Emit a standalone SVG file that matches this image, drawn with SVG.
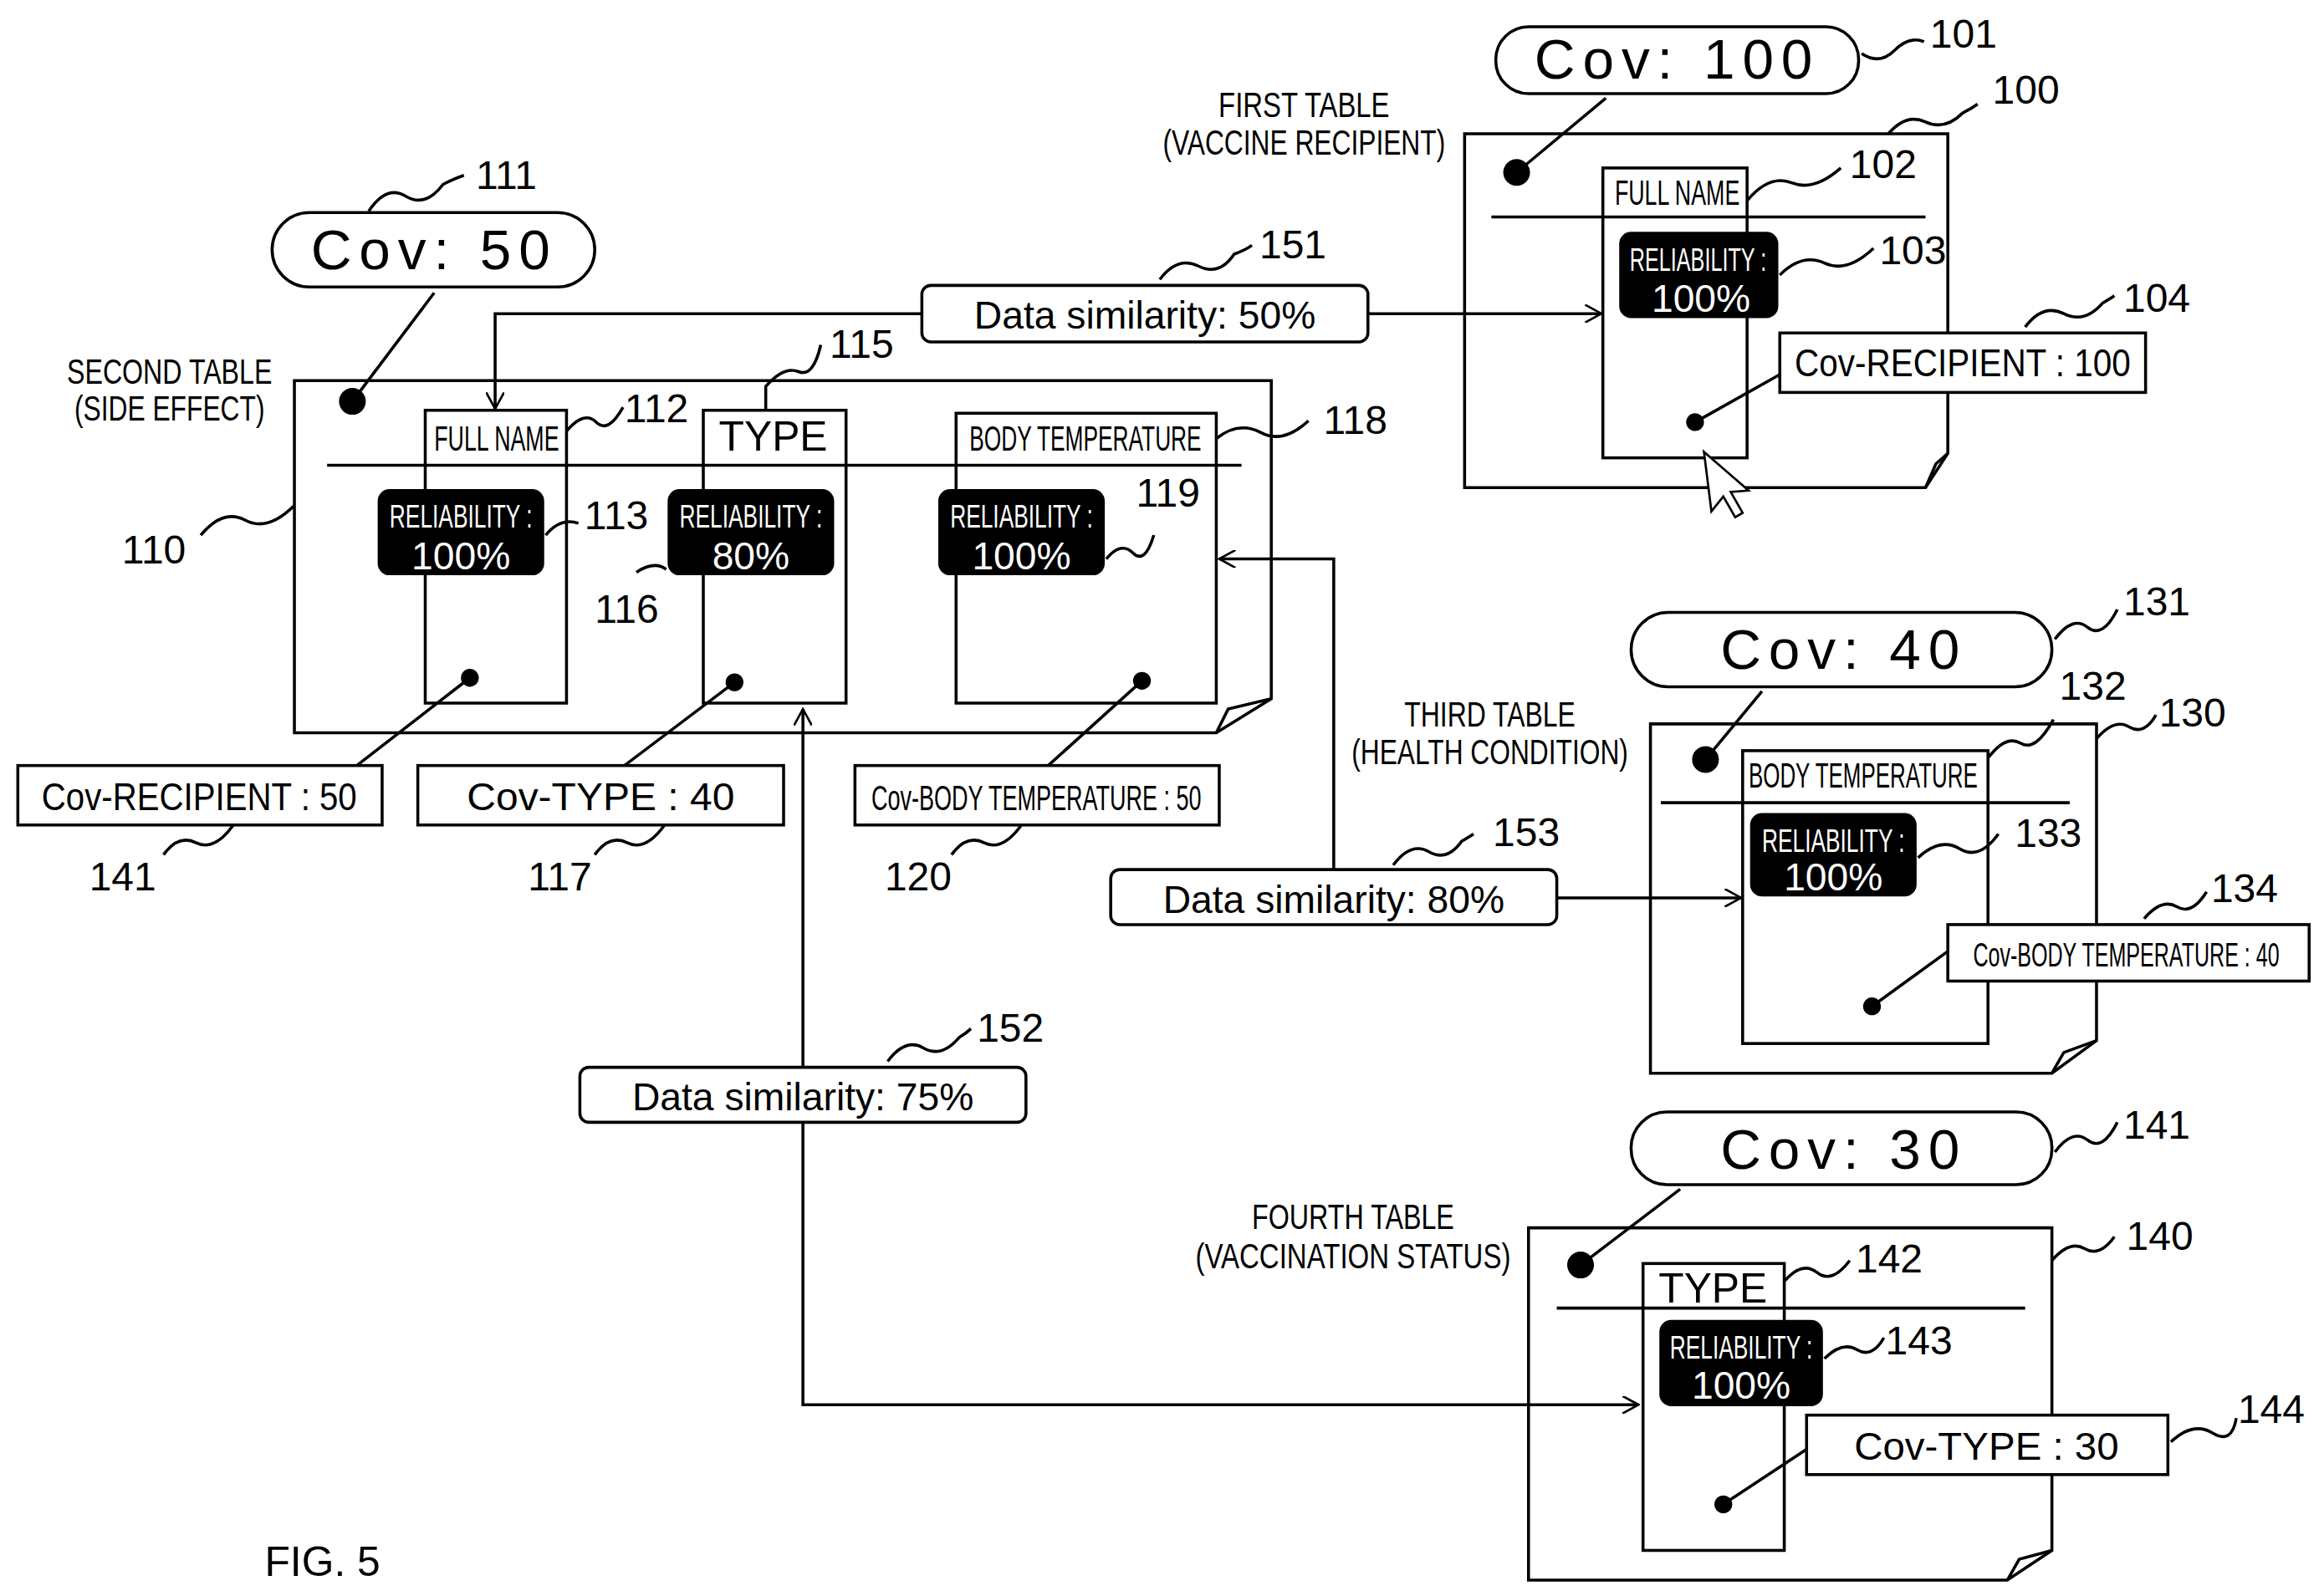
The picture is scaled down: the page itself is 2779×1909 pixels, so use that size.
<svg xmlns="http://www.w3.org/2000/svg" width="2779" height="1909" viewBox="0 0 2779 1909">
<defs>
<style>
.s{fill:none;stroke:#000;stroke-width:2}
.t{font-family:"Liberation Sans",Arial,sans-serif;fill:#000}
.n{font-family:"Liberation Sans",Arial,sans-serif;font-size:27px;fill:#000}
.c{font-family:"Liberation Sans",Arial,sans-serif;font-size:38px;letter-spacing:5px;fill:#000;text-anchor:middle}
.w{font-family:"Liberation Sans",Arial,sans-serif;fill:#fff;text-anchor:middle}
.b{fill:#fff;stroke:#000;stroke-width:2}
.k{fill:#000;stroke:#000;stroke-width:2}
</style>
<marker id="a" viewBox="0 0 12 12" refX="11" refY="6" markerWidth="12" markerHeight="12" markerUnits="userSpaceOnUse" orient="auto"><path d="M0 0 L11 6 L0 12" fill="none" stroke="#000" stroke-width="1.5"/></marker>
</defs>
<rect width="2779" height="1909" fill="#fff"/>
<g transform="scale(1.778)">
<g id="connectors">
<path class="s" d="M620 211 H333 V275" marker-end="url(#a)"/>
<path class="s" d="M920 211 H1077" marker-end="url(#a)"/>
<path class="s" d="M540 718 V477" marker-end="url(#a)"/>
<path class="s" d="M540 755 V945 H1102" marker-end="url(#a)"/>
<path class="s" d="M897 585 V376 H820" marker-end="url(#a)"/>
<path class="s" d="M1047 604 H1171" marker-end="url(#a)"/>
<g id="sim151"><rect class="b" x="620" y="192" width="300" height="38" rx="6"/><text class="t" x="770" y="221" font-size="26" text-anchor="middle">Data similarity: 50%</text><path class="s" d="M780 188 q12 -16 26 -9 t24 -8 q8 -3 12 -6"/><text class="n" x="847" y="174">151</text></g>
<g id="sim152"><rect class="b" x="390" y="718" width="300" height="37" rx="6"/><text class="t" x="540" y="747" font-size="26" text-anchor="middle">Data similarity: 75%</text><path class="s" d="M597 714 q12 -16 24 -9 t24 -7 q5 -3 8 -6"/><text class="n" x="657" y="701">152</text></g>
<g id="sim153"><rect class="b" x="747" y="585" width="300" height="37" rx="6"/><text class="t" x="897" y="614" font-size="26" text-anchor="middle">Data similarity: 80%</text><path class="s" d="M937 582 q12 -16 24 -9 t22 -7 q5 -3 8 -5"/><text class="n" x="1004" y="569">153</text></g>
</g>

<g id="table1">
<path class="s" d="M985 90 H1310 V305 L1295 328 H985 Z"/>
<path class="s" d="M1295 328 L1302 312 L1310 305"/>
<text class="t" x="877" y="79" font-size="24" text-anchor="middle" textLength="115" lengthAdjust="spacingAndGlyphs">FIRST TABLE</text>
<text class="t" x="877" y="104" font-size="24" text-anchor="middle" textLength="190" lengthAdjust="spacingAndGlyphs">(VACCINE RECIPIENT)</text>
<rect class="b" x="1006" y="18" width="244" height="45" rx="22"/>
<text class="c" x="1128" y="53">Cov: 100</text>
<line class="s" x1="1020" y1="116" x2="1080" y2="66" stroke-width="4"/>
<circle cx="1020" cy="116" r="9"/>
<path class="s" d="M1252 36 q12 8 22 -2 t20 -6"/><text class="n" x="1298" y="32">101</text>
<path class="s" d="M1270 90 q12 -14 25 -8 t25 -6 q6 -3 10 -6"/><text class="n" x="1340" y="70">100</text>
<rect class="s" x="1078" y="113" width="97" height="195"/>
<text class="t" x="1128" y="138" font-size="24" text-anchor="middle" textLength="84" lengthAdjust="spacingAndGlyphs">FULL NAME</text>
<line class="s" x1="1003" y1="146" x2="1295" y2="146"/>
<path class="s" d="M1175 135 q15 -18 30 -12 t33 -10"/><text class="n" x="1244" y="120">102</text>
<rect class="k" x="1090" y="157" width="105" height="56" rx="7"/>
<text class="w" x="1142" y="182" font-size="22" textLength="92" lengthAdjust="spacingAndGlyphs">RELIABILITY :</text>
<text class="w" x="1144" y="210" font-size="26">100%</text>
<path class="s" d="M1197 185 q15 -15 30 -8 t33 -10"/><text class="n" x="1264" y="178">103</text>
<rect class="b" x="1197" y="224" width="246" height="40"/>
<text class="t" x="1320" y="253" font-size="26" text-anchor="middle" textLength="226" lengthAdjust="spacingAndGlyphs">Cov-RECIPIENT : 100</text>
<path class="s" d="M1362 220 q12 -16 26 -9 t26 -7 q5 -3 8 -5"/><text class="n" x="1428" y="210">104</text>
<line class="s" x1="1140" y1="284" x2="1197" y2="252"/><circle cx="1140" cy="284" r="6"/>
<path d="M1146 304 L1151 344 L1159 334 L1167 348 L1172 345 L1164 331 L1176 330 Z" fill="#fff" stroke="#000" stroke-width="1.5"/>
</g>

<g id="table2">
<path class="s" d="M198 256 H855 V470 L818 493 H198 Z"/>
<path class="s" d="M818 493 L826 477 L855 470"/>
<text class="t" x="114" y="258" font-size="24" text-anchor="middle" textLength="138" lengthAdjust="spacingAndGlyphs">SECOND TABLE</text>
<text class="t" x="114" y="283" font-size="24" text-anchor="middle" textLength="128" lengthAdjust="spacingAndGlyphs">(SIDE EFFECT)</text>
<rect class="b" x="183" y="143" width="217" height="50" rx="25"/>
<text class="c" x="292" y="181">Cov: 50</text>
<line class="s" x1="237" y1="270" x2="292" y2="197" stroke-width="4"/>
<circle cx="237" cy="270" r="9"/>
<path class="s" d="M248 142 q12 -18 25 -10 t25 -8 q8 -4 14 -6"/><text class="n" x="320" y="127">111</text>
<path class="s" d="M135 360 q15 -18 30 -10 t33 -10"/><text class="n" x="82" y="379">110</text>
<line class="s" x1="220" y1="313" x2="835" y2="313"/>
<rect class="s" x="286" y="276" width="95" height="197"/>
<text class="t" x="334" y="303" font-size="24" text-anchor="middle" textLength="84" lengthAdjust="spacingAndGlyphs">FULL NAME</text>
<path class="s" d="M381 290 q12 -14 20 -6 t18 -10"/><text class="n" x="420" y="284">112</text>
<rect class="k" x="255" y="330" width="110" height="56" rx="7"/>
<text class="w" x="310" y="355" font-size="22" textLength="96" lengthAdjust="spacingAndGlyphs">RELIABILITY :</text>
<text class="w" x="310" y="383" font-size="26">100%</text>
<path class="s" d="M367 360 q10 -12 22 -8"/><text class="n" x="393" y="356">113</text>
<rect class="s" x="473" y="276" width="96" height="197"/>
<text class="t" x="520" y="303" font-size="28" text-anchor="middle">TYPE</text>
<path class="s" d="M515 276 V260 q12 -14 22 -10 t15 -18"/><text class="n" x="558" y="241">115</text>
<rect class="k" x="450" y="330" width="110" height="56" rx="7"/>
<text class="w" x="505" y="355" font-size="22" textLength="96" lengthAdjust="spacingAndGlyphs">RELIABILITY :</text>
<text class="w" x="505" y="383" font-size="26">80%</text>
<path class="s" d="M428 385 q12 -8 20 -2"/><text class="n" x="400" y="419">116</text>
<rect class="s" x="643" y="278" width="175" height="195"/>
<text class="t" x="730" y="303" font-size="24" text-anchor="middle" textLength="156" lengthAdjust="spacingAndGlyphs">BODY TEMPERATURE</text>
<path class="s" d="M818 295 q15 -12 30 -4 t32 -8"/><text class="n" x="890" y="292">118</text>
<rect class="k" x="632" y="330" width="110" height="56" rx="7"/>
<text class="w" x="687" y="355" font-size="22" textLength="96" lengthAdjust="spacingAndGlyphs">RELIABILITY :</text>
<text class="w" x="687" y="383" font-size="26">100%</text>
<path class="s" d="M744 376 q10 -12 18 -4 t14 -12"/><text class="n" x="764" y="341">119</text>
<line class="s" x1="316" y1="456" x2="240" y2="515"/><circle cx="316" cy="456" r="6"/>
<line class="s" x1="494" y1="459" x2="420" y2="515"/><circle cx="494" cy="459" r="6"/>
<line class="s" x1="768" y1="458" x2="705" y2="515"/><circle cx="768" cy="458" r="6"/>
<rect class="b" x="12" y="515" width="245" height="40"/>
<text class="t" x="134" y="545" font-size="26" text-anchor="middle" textLength="212" lengthAdjust="spacingAndGlyphs">Cov-RECIPIENT : 50</text>
<path class="s" d="M110 575 q10 -14 22 -8 t25 -12"/><text class="n" x="60" y="599">141</text>
<rect class="b" x="281" y="515" width="246" height="40"/>
<text class="t" x="404" y="545" font-size="26" text-anchor="middle" textLength="180" lengthAdjust="spacingAndGlyphs">Cov-TYPE : 40</text>
<path class="s" d="M400 575 q10 -14 22 -8 t25 -12"/><text class="n" x="355" y="599">117</text>
<rect class="b" x="575" y="515" width="245" height="40"/>
<text class="t" x="697" y="545" font-size="24" text-anchor="middle" textLength="222" lengthAdjust="spacingAndGlyphs">Cov-BODY TEMPERATURE : 50</text>
<path class="s" d="M640 575 q10 -14 22 -8 t25 -12"/><text class="n" x="595" y="599">120</text>
</g>

<g id="table3">
<path class="s" d="M1110 487 H1410 V700 L1380 722 H1110 Z"/>
<path class="s" d="M1380 722 L1388 708 L1410 700"/>
<text class="t" x="1002" y="489" font-size="24" text-anchor="middle" textLength="115" lengthAdjust="spacingAndGlyphs">THIRD TABLE</text>
<text class="t" x="1002" y="514" font-size="24" text-anchor="middle" textLength="186" lengthAdjust="spacingAndGlyphs">(HEALTH CONDITION)</text>
<rect class="b" x="1097" y="412" width="283" height="50" rx="25"/>
<text class="c" x="1240" y="450">Cov: 40</text>
<line class="s" x1="1147" y1="511" x2="1185" y2="465" stroke-width="4"/>
<circle cx="1147" cy="511" r="9"/>
<path class="s" d="M1382 430 q12 -16 22 -8 t20 -12"/><text class="n" x="1428" y="414">131</text>
<rect class="s" x="1172" y="505" width="165" height="197"/>
<text class="t" x="1253" y="530" font-size="24" text-anchor="middle" textLength="154" lengthAdjust="spacingAndGlyphs">BODY TEMPERATURE</text>
<line class="s" x1="1117" y1="540" x2="1392" y2="540"/>
<path class="s" d="M1337 510 q12 -16 22 -10 t22 -16"/><text class="n" x="1385" y="471">132</text>
<path class="s" d="M1410 497 q12 -14 22 -8 t18 -8"/><text class="n" x="1452" y="489">130</text>
<rect class="k" x="1178" y="548" width="110" height="54" rx="7"/>
<text class="w" x="1233" y="573" font-size="22" textLength="96" lengthAdjust="spacingAndGlyphs">RELIABILITY :</text>
<text class="w" x="1233" y="599" font-size="26">100%</text>
<path class="s" d="M1290 577 q15 -14 28 -6 t26 -10"/><text class="n" x="1355" y="570">133</text>
<rect class="b" x="1310" y="622" width="243" height="38"/>
<text class="t" x="1430" y="650" font-size="23" text-anchor="middle" textLength="206" lengthAdjust="spacingAndGlyphs">Cov-BODY TEMPERATURE : 40</text>
<path class="s" d="M1442 618 q12 -14 22 -8 t20 -10"/><text class="n" x="1487" y="607">134</text>
<line class="s" x1="1259" y1="677" x2="1310" y2="640"/><circle cx="1259" cy="677" r="6"/>
</g>

<g id="table4">
<path class="s" d="M1028 826 H1380 V1043 L1350 1063 H1028 Z"/>
<path class="s" d="M1350 1063 L1358 1049 L1380 1043"/>
<text class="t" x="910" y="827" font-size="24" text-anchor="middle" textLength="136" lengthAdjust="spacingAndGlyphs">FOURTH TABLE</text>
<text class="t" x="910" y="853" font-size="24" text-anchor="middle" textLength="212" lengthAdjust="spacingAndGlyphs">(VACCINATION STATUS)</text>
<rect class="b" x="1097" y="748" width="283" height="49" rx="24"/>
<text class="c" x="1240" y="786">Cov: 30</text>
<line class="s" x1="1063" y1="851" x2="1130" y2="800" stroke-width="4"/>
<circle cx="1063" cy="851" r="9"/>
<path class="s" d="M1382 775 q12 -16 22 -8 t20 -12"/><text class="n" x="1428" y="766">141</text>
<path class="s" d="M1380 848 q12 -14 22 -8 t20 -8"/><text class="n" x="1430" y="841">140</text>
<rect class="s" x="1105" y="850" width="95" height="193"/>
<text class="t" x="1152" y="876" font-size="28" text-anchor="middle">TYPE</text>
<line class="s" x1="1047" y1="880" x2="1362" y2="880"/>
<path class="s" d="M1200 862 q12 -14 22 -6 t22 -8"/><text class="n" x="1248" y="856">142</text>
<rect class="k" x="1117" y="889" width="108" height="56" rx="7"/>
<text class="w" x="1171" y="914" font-size="22" textLength="96" lengthAdjust="spacingAndGlyphs">RELIABILITY :</text>
<text class="w" x="1171" y="941" font-size="26">100%</text>
<path class="s" d="M1227 914 q12 -12 22 -6 t18 -8"/><text class="n" x="1268" y="911">143</text>
<rect class="b" x="1215" y="952" width="243" height="40"/>
<text class="t" x="1336" y="982" font-size="26" text-anchor="middle" textLength="178" lengthAdjust="spacingAndGlyphs">Cov-TYPE : 30</text>
<path class="s" d="M1460 970 q15 -14 28 -6 t16 -10"/><text class="n" x="1505" y="957">144</text>
<line class="s" x1="1159" y1="1012" x2="1215" y2="975"/><circle cx="1159" cy="1012" r="6"/>
</g>

<text class="t" x="178" y="1060" font-size="28" fill="#555">FIG. 5</text>
</g>
</svg>
